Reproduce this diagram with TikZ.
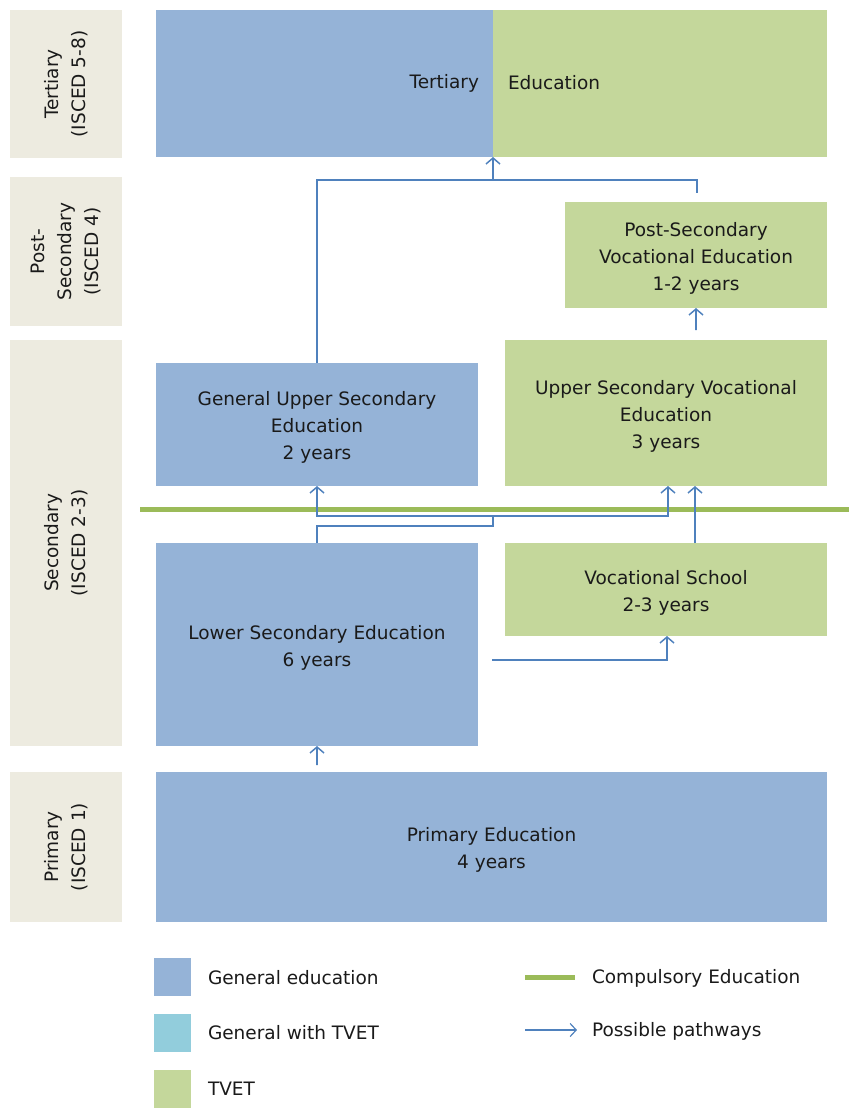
\documentclass[tikz,border=0pt]{standalone}
\usepackage{fontspec}
\setmainfont{DejaVu Sans}
\usetikzlibrary{arrows.meta}
\definecolor{genblue}{HTML}{95B3D7}
\definecolor{tvetgreen}{HTML}{C4D79B}
\definecolor{gentvet}{HTML}{92CDDC}
\definecolor{sidebeige}{HTML}{EDEBE0}
\definecolor{compgreen}{HTML}{9BBB59}
\definecolor{pathblue}{HTML}{4F81BD}
\definecolor{txt}{HTML}{1A1A1A}
\begin{document}
\begin{tikzpicture}[x=1bp,y=-1bp,
  every node/.style={font=\fontsize{18.5bp}{27bp}\selectfont, text=txt, inner sep=0pt, outer sep=0pt},
  blk/.style={anchor=north west, align=center},
  genbox/.style={blk, fill=genblue},
  tvetbox/.style={blk, fill=tvetgreen},
  sidebox/.style={blk, fill=sidebeige},
  sidelabel/.style={rotate=90, align=center},
  boxlabel/.style={align=center, yshift=-3bp},
  pathline/.style={draw=pathblue, line width=1.6bp},
  patharrow/.style={pathline, -{Straight Barb[length=6bp,width=14bp,line width=1.5bp]}},
  compulsory/.style={draw=compgreen, line width=5bp},
  legsq/.style={anchor=north west, minimum width=37bp, minimum height=38bp},
  legtext/.style={anchor=west, yshift=-1bp}
]
\useasboundingbox (0,0) rectangle (849,1110);

% level labels on the left
\node[sidebox, minimum width=112bp, minimum height=148bp] (sbT) at (10,10) {};
\node[sidelabel] at (sbT.center) {Tertiary\\(ISCED 5-8)};
\node[sidebox, minimum width=112bp, minimum height=149bp] (sbP) at (10,177) {};
\node[sidelabel] at (sbP.center) {Post-\\Secondary\\(ISCED 4)};
\node[sidebox, minimum width=112bp, minimum height=406bp] (sbS) at (10,340) {};
\node[sidelabel] at (sbS.center) {Secondary\\(ISCED 2-3)};
\node[sidebox, minimum width=112bp, minimum height=150bp] (sbPr) at (10,772) {};
\node[sidelabel] at (sbPr.center) {Primary\\(ISCED 1)};

% tertiary level
\node[genbox, minimum width=337bp, minimum height=147bp] (terB) at (156,10) {};
\node[tvetbox, minimum width=334bp, minimum height=147bp] (terG) at (493,10) {};
\node[anchor=east, yshift=-1bp] at (479,82) {Tertiary};
\node[anchor=west, yshift=-1bp] at (508,82) {Education};

% post-secondary
\node[tvetbox, minimum width=262bp, minimum height=106bp] (psv) at (565,202) {};
\node[boxlabel] at (psv.center) {Post-Secondary\\Vocational Education\\1-2 years};

% upper secondary
\node[genbox, minimum width=322bp, minimum height=123bp] (gus) at (156,363) {};
\node[boxlabel] at (gus.center) {General Upper Secondary\\Education\\2 years};
\node[tvetbox, minimum width=322bp, minimum height=146bp] (usv) at (505,340) {};
\node[boxlabel] at (usv.center) {Upper Secondary Vocational\\Education\\3 years};

% lower secondary
\node[genbox, minimum width=322bp, minimum height=203bp] (lse) at (156,543) {};
\node[boxlabel] at (lse.center) {Lower Secondary Education\\6 years};
\node[tvetbox, minimum width=322bp, minimum height=93bp] (vs) at (505,543) {};
\node[boxlabel] at (vs.center) {Vocational School\\2-3 years};

% primary
\node[genbox, minimum width=671bp, minimum height=150bp] (pri) at (156,772) {};
\node[boxlabel] at (pri.center) {Primary Education\\4 years};

% compulsory education limit
\draw[compulsory] (140,509) -- (849,509);

% junction points of the pathways
\coordinate (terIn) at (493,180);
\coordinate (terTick) at (697,180);
\coordinate (terTickEnd) at (697,193);
\coordinate (psvIn) at (696,330);
\coordinate (lseJ1) at (493,526);
\coordinate (lseJ2) at (493,516);
\coordinate (usvIn1) at (668,486);
\coordinate (vsOut) at (695,543);
\coordinate (usvIn2) at (695,486);
\coordinate (lseOut) at (492,660);
\coordinate (vsIn) at (667,636);
\coordinate (priOut) at (317,765);

% pathways
\draw[pathline] (gus.north) |- (terTick) -- (terTickEnd);
\draw[patharrow] (terIn) -- (terB.south east);
\draw[patharrow] (psvIn) -- (psv.south);
\draw[pathline] (lse.north) |- (lseJ1) -- (lseJ2);
\draw[patharrow] (lseJ2) -| (gus.south);
\draw[patharrow] (lseJ2) -| (usvIn1);
\draw[patharrow] (vsOut) -- (usvIn2);
\draw[patharrow] (lseOut) -| (vsIn);
\draw[patharrow] (priOut) -- (lse.south);

% legend
\node[legsq, fill=genblue] (lg1) at (154,958) {};
\node[legtext] at (208,977) {General education};
\node[legsq, fill=gentvet] (lg2) at (154,1014) {};
\node[legtext] at (208,1032) {General with TVET};
\node[legsq, fill=tvetgreen] (lg3) at (154,1070) {};
\node[legtext] at (208,1088) {TVET};
\coordinate (lgc1) at (525,977);
\coordinate (lgc2) at (575,977);
\draw[compulsory] (lgc1) -- (lgc2);
\node[legtext] at (592,977) {Compulsory Education};
\coordinate (lga1) at (525,1030);
\coordinate (lga2) at (577,1030);
\draw[pathblue, line width=1.4bp, -{Straight Barb[length=6bp,width=13bp,line width=1.2bp]}] (lga1) -- (lga2);
\node[legtext] at (592,1030) {Possible pathways};
\end{tikzpicture}
\end{document}
